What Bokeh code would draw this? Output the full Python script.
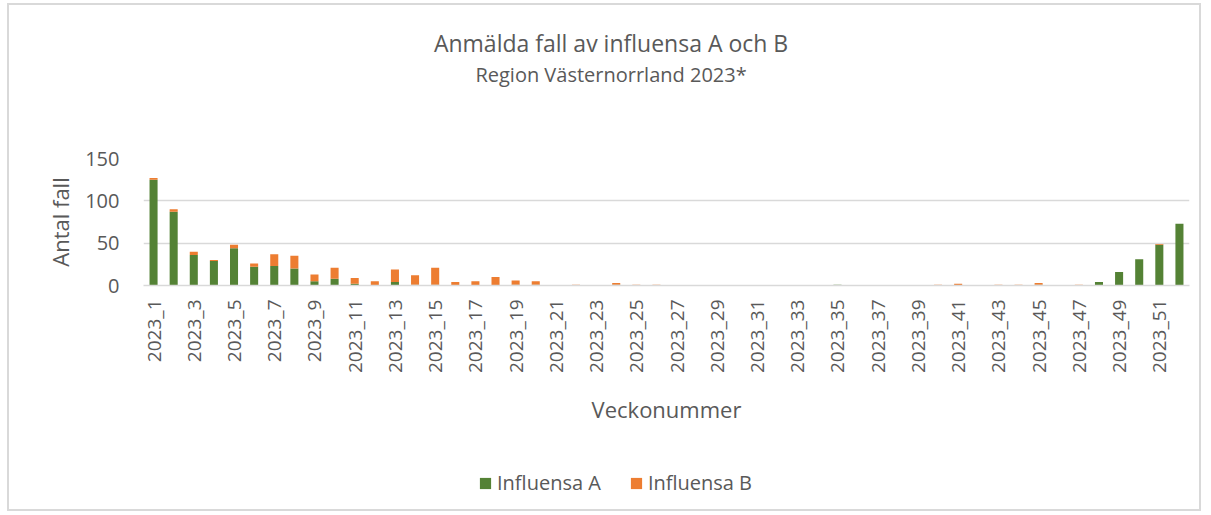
import math
from bokeh.plotting import figure
from bokeh.layouts import column
from bokeh.models import (ColumnDataSource, FixedTicker, Legend, LegendItem,
                          Range1d, Label)
from bokeh.embed import file_html
from bokeh.resources import INLINE

# ---- data ----
weeks = list(range(1, 53))
week_labels = [f"2023_{w}" for w in weeks]
influensa_a = [125, 87, 36, 29, 44, 22, 23, 20, 5, 8,
               2, 0, 4, 1, 1, 0, 0, 0, 1, 1,
               0, 0, 0, 1, 0, 0, 0, 0, 0, 0,
               0, 0, 0, 0, 1, 0, 0, 0, 0, 0,
               0, 0, 0, 0, 1, 0, 0, 4, 16, 31,
               48, 73]
influensa_b = [2, 3, 4, 1, 4, 4, 14, 15, 8, 13,
               7, 5, 15, 11, 20, 4, 5, 10, 5, 4,
               0, 1, 0, 2, 1, 1, 0, 0, 0, 0,
               0, 0, 0, 0, 0, 0, 0, 0, 0, 1,
               2, 0, 1, 1, 2, 0, 1, 0, 0, 0,
               1, 0]
y_ticks = [0, 50, 100, 150]
series_names = ["Influensa A", "Influensa B"]
colors = ["#548235", "#ED7D31"]
title_text = "Anmälda fall av influensa A och B"
subtitle_text = "Region Västernorrland 2023*"

FONT = "Open Sans"
TXT = "#595959"
GRID = "#d9d9d9"
W = 1190
MB_LEFT, MB_RIGHT = 134, 10


def blank(height, x_range, y_range):
    f = figure(width=W, height=height, output_backend="svg", toolbar_location=None,
               x_range=x_range, y_range=y_range, min_border_top=0,
               min_border_bottom=0, min_border_left=MB_LEFT, min_border_right=MB_RIGHT,
               title=None)
    f.axis.visible = False
    f.grid.visible = False
    f.outline_line_color = None
    f.border_fill_color = "white"
    f.background_fill_color = "white"
    return f


source = ColumnDataSource(dict(week=weeks, A=influensa_a, B=influensa_b))

# ---- title block ----
pt = blank(100, Range1d(0, 1), Range1d(0, 1))
pt.add_layout(Label(x=0.447, y=0.63, text=title_text, text_align="center",
                    text_baseline="middle", text_font=FONT, text_font_size="23px",
                    text_color=TXT))
pt.add_layout(Label(x=0.447, y=0.31, text=subtitle_text, text_align="center",
                    text_baseline="middle", text_font=FONT, text_font_size="20px",
                    text_color=TXT))

# ---- main chart ----
p = figure(width=W, height=352, output_backend="svg", toolbar_location=None,
           x_range=Range1d(0.5, 52.5), y_range=Range1d(0, 150),
           min_border_left=MB_LEFT, min_border_right=MB_RIGHT, min_border_top=53,
           min_border_bottom=172, title=None)
p.outline_line_color = None
p.background_fill_color = "white"
p.border_fill_color = "white"

p.vbar_stack(["A", "B"], x="week", width=0.4, color=colors,
             line_color=None, source=source)

p.xaxis.ticker = FixedTicker(ticks=[w for w in weeks if w % 2 == 1])
p.xaxis.major_label_overrides = {w: lbl for w, lbl in zip(weeks, week_labels)}
p.xaxis.major_label_orientation = math.pi / 2
p.xaxis.major_tick_line_color = None
p.xaxis.minor_tick_line_color = None
p.xaxis.axis_line_color = GRID
p.xaxis.axis_line_width = 1.5
p.xaxis.major_label_text_font = FONT
p.xaxis.major_label_text_font_size = "19px"
p.xaxis.major_label_text_color = TXT
p.xaxis.major_label_standoff = 8
p.xaxis.axis_label = "Veckonummer"
p.xaxis.axis_label_text_font = FONT
p.xaxis.axis_label_text_font_size = "22px"
p.xaxis.axis_label_text_font_style = "normal"
p.xaxis.axis_label_text_color = TXT
p.xaxis.axis_label_standoff = 18

p.yaxis.ticker = FixedTicker(ticks=y_ticks)
p.yaxis.major_tick_line_color = None
p.yaxis.minor_tick_line_color = None
p.yaxis.axis_line_color = None
p.yaxis.major_label_text_font = FONT
p.yaxis.major_label_text_font_size = "20px"
p.yaxis.major_label_text_color = TXT
p.yaxis.major_label_standoff = 18
p.yaxis.axis_label = "Antal fall"
p.yaxis.axis_label_text_font = FONT
p.yaxis.axis_label_text_font_size = "22px"
p.yaxis.axis_label_text_font_style = "normal"
p.yaxis.axis_label_text_color = TXT
p.yaxis.axis_label_standoff = 7

p.xgrid.grid_line_color = None
p.ygrid.grid_line_color = GRID
p.ygrid.grid_line_width = 1.5

# ---- legend block (its zero-width bars lie outside the visible range; only the legend shows) ----
pl = blank(52, Range1d(0.5, 52.5), Range1d(1000, 1001))
leg_renderers = pl.vbar_stack(["A", "B"], x="week", width=0, color=colors,
                              line_color=None, source=source)
legend = Legend(items=[LegendItem(label=n, renderers=[r]) for n, r in zip(series_names, leg_renderers)],
                orientation="horizontal", location=(335, 13),
                label_text_font=FONT, label_text_font_size="20px", label_text_color=TXT,
                glyph_width=14, glyph_height=14, spacing=28, label_standoff=5,
                border_line_color=None, background_fill_alpha=0, margin=0, padding=0)
pl.add_layout(legend, "center")

layout = column(pt, p, pl, spacing=0)
layout.styles = {"border": "2px solid #d9d9d9", "margin": "3px 0px 0px 7px"}

open("out.html", "w").write(file_html(layout, INLINE))
